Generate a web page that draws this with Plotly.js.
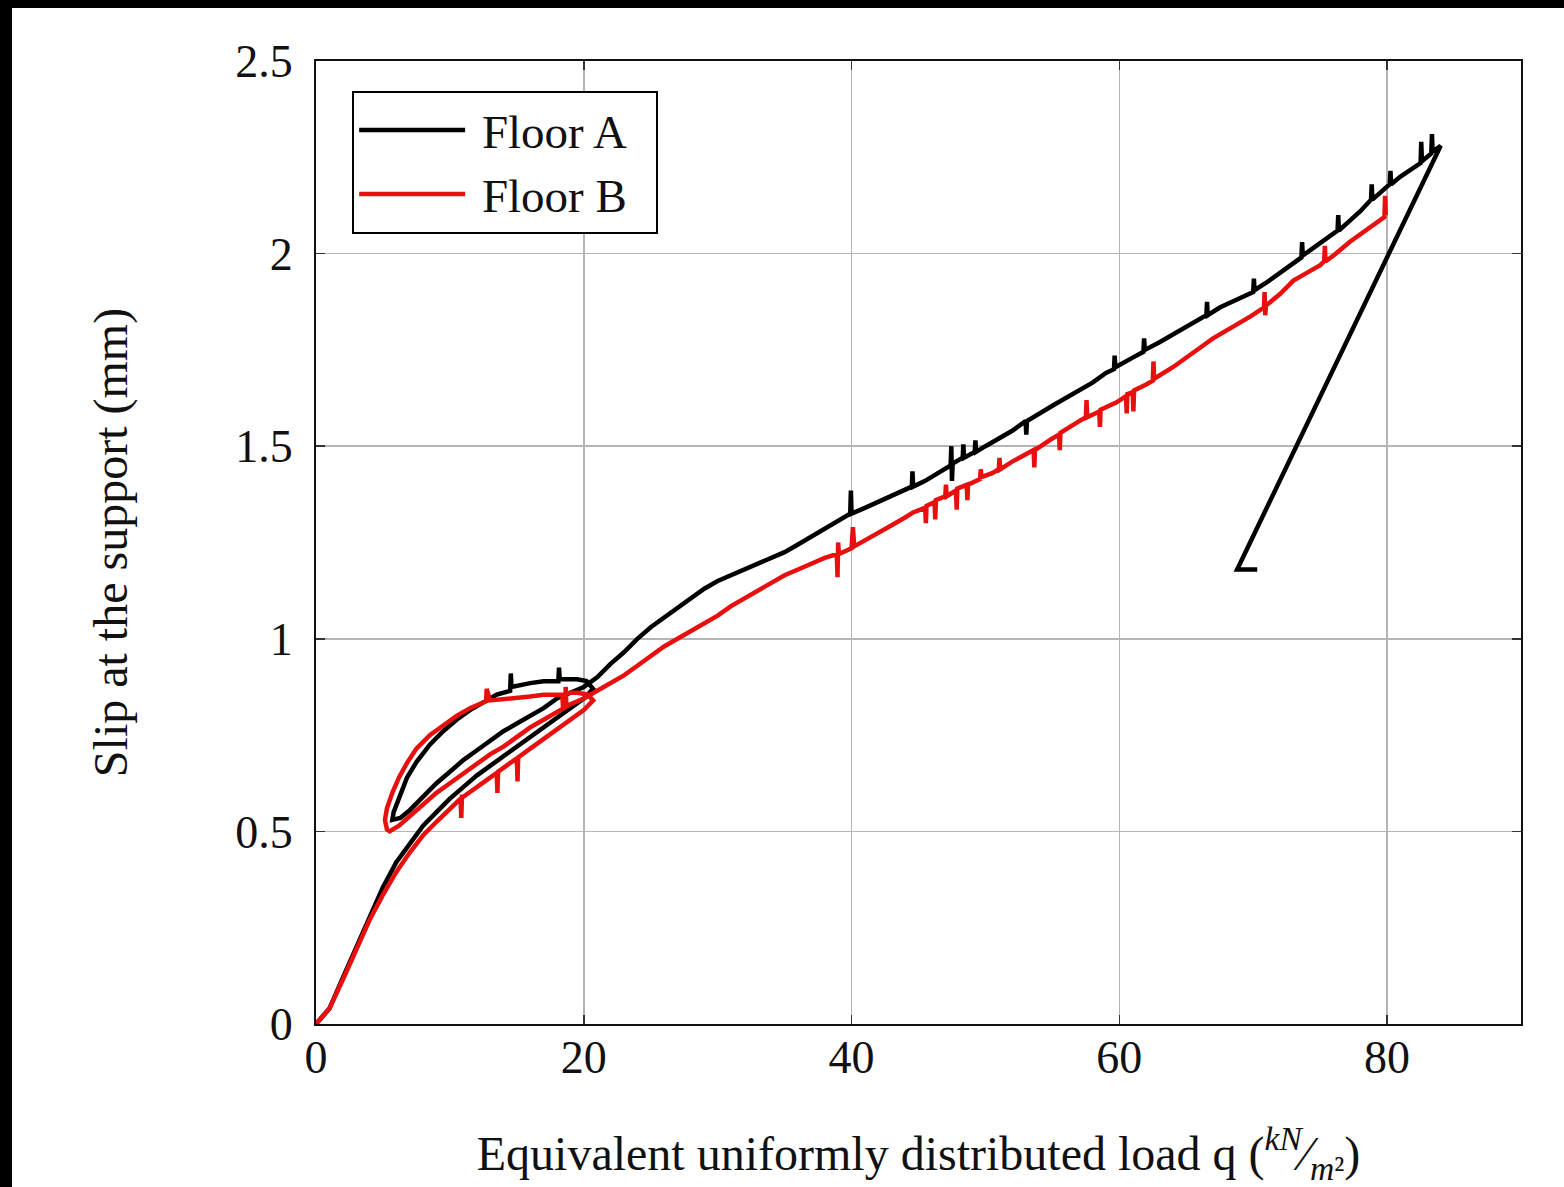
<!DOCTYPE html>
<html>
<head>
<meta charset="utf-8">
<script src="https://cdn.plot.ly/plotly-3.0.1.min.js"></script>
<style>
  html, body { margin: 0; padding: 0; background: #000; width: 1564px; height: 1187px; overflow: hidden; }
  #plot { position: absolute; left: 12px; top: 8px; width: 1552px; height: 1179px; background: #fff; }
</style>
</head>
<body>
<div id="plot"></div>
<script>
// Floor A: initial loading, unloading, reloading, loading to peak, final unloading
const floorA_q = [
  0,1,2,3,4,5,6,7,8,9,10,11,12,13,14,15,16,17,18,19,20,20.7,
  20.2,19.5,18.2,18.15,18.1,17,16,14.6,14.55,14.5,13.5,12.5,11.5,10.5,9.5,8.5,7.5,6.8,6.2,5.8,5.7,
  6.3,7,8,9,10,11,12,13,14,15,16,17,18,19,20,21,
  22,23,24,25,26,27,28,29,30,31,32,33,34,35,36,37,38,39,39.9,39.95,40,41,42,43,44,44.5,44.55,44.6,45.5,46.5,
  47.4,47.45,47.5,47.55,48.3,48.35,48.4,49.2,49.25,49.3,50,51,52,53,53.05,53.1,54,55,56,57,58,59,59.6,59.65,59.7,
  61,61.8,61.85,61.9,63,64,65,66,66.5,66.55,66.6,67.5,68.5,69.5,70,70.05,70.1,71,72,73,73.6,73.65,73.7,74.5,75.5,
  76.3,76.35,76.4,77.2,78,78.8,78.85,78.9,79.7,80.2,80.25,80.3,81,82,82.5,82.55,82.6,83.3,83.35,83.4,84,
  68.8,70.3
];
const floorA_slip = [
  0,0.04,0.12,0.2,0.28,0.355,0.42,0.47,0.515,0.55,0.585,0.615,0.645,0.67,0.695,0.72,0.745,0.77,0.795,0.82,0.845,0.87,
  0.89,0.895,0.895,0.925,0.89,0.89,0.885,0.875,0.91,0.865,0.855,0.835,0.815,0.79,0.76,0.725,0.68,0.64,0.59,0.55,0.53,
  0.535,0.555,0.59,0.625,0.655,0.685,0.71,0.735,0.76,0.78,0.8,0.82,0.845,0.86,0.875,0.9,
  0.935,0.965,1.0,1.03,1.055,1.08,1.105,1.13,1.15,1.165,1.18,1.195,1.21,1.225,1.245,1.265,1.285,1.305,1.325,1.385,1.325,1.34,1.355,1.37,1.385,1.395,1.435,1.395,1.41,1.43,
  1.45,1.5,1.41,1.455,1.47,1.505,1.47,1.485,1.515,1.485,1.5,1.52,1.54,1.565,1.53,1.565,1.585,1.605,1.625,1.645,1.665,1.69,1.7,1.735,1.705,
  1.73,1.745,1.78,1.75,1.77,1.79,1.81,1.83,1.84,1.875,1.84,1.86,1.875,1.89,1.9,1.935,1.905,1.925,1.95,1.975,1.99,2.03,1.995,2.015,2.04,
  2.06,2.1,2.06,2.085,2.11,2.14,2.18,2.14,2.167,2.18,2.215,2.18,2.2,2.225,2.235,2.29,2.24,2.26,2.31,2.265,2.28,
  1.18,1.18
];

// Floor B: initial loading, unloading, reloading, loading to peak
const floorB_q = [
  0,1,2,3,4,5,6,7,8,9,10,10.8,10.85,10.9,11,12,13,13.5,13.55,13.6,14,15,15.05,15.1,16,17,18,19,20,20.7,
  20.3,19.5,19,18.5,18.45,18.4,17,16,14.5,13,12.75,12.7,11.5,10.5,9.5,8.5,7.5,6.8,6.2,5.7,5.3,5.15,5.3,5.5,
  6.2,7,8,9,10,11,12,13,14,15,16,17,18,18.6,18.65,18.7,19,20,21,
  22,23,24,25,26,27,28,29,30,31,32,33,34,35,36,37,38,38.9,38.95,39,39.05,40,40.1,40.2,41,42,43,44,44.6,
  45.5,45.55,45.6,46.2,46.25,46.3,47,47.05,47.1,47.8,47.85,47.9,48.6,48.65,48.7,49.6,49.65,49.7,50.5,51,51.05,51.1,
  52,53,53.6,53.65,53.7,55,55.5,55.55,55.6,57,57.5,57.55,57.6,58.5,58.55,58.6,59.8,60.5,60.55,60.6,61,61.05,61.1,
  62,62.5,62.55,62.6,64,64.8,66,67,68,69,69.8,70.8,70.85,70.9,70.95,72,73,74,75,75.3,75.35,75.4,76,77.2,78,79,79.8,79.85,79.9
];
const floorB_slip = [
  0,0.04,0.115,0.195,0.27,0.335,0.395,0.445,0.49,0.525,0.56,0.585,0.535,0.59,0.59,0.615,0.64,0.652,0.6,0.655,0.665,0.69,0.63,0.692,0.715,0.74,0.765,0.79,0.815,0.84,
  0.855,0.86,0.86,0.855,0.82,0.855,0.855,0.85,0.845,0.84,0.87,0.838,0.82,0.8,0.775,0.75,0.715,0.678,0.64,0.6,0.56,0.53,0.505,0.5,
  0.515,0.54,0.57,0.6,0.625,0.65,0.675,0.7,0.72,0.745,0.77,0.79,0.81,0.822,0.875,0.824,0.83,0.845,0.865,
  0.885,0.905,0.93,0.955,0.98,1.0,1.02,1.04,1.06,1.085,1.105,1.125,1.145,1.165,1.18,1.195,1.21,1.22,1.16,1.25,1.22,1.235,1.29,1.24,1.255,1.275,1.295,1.315,1.328,
  1.34,1.3,1.345,1.355,1.31,1.36,1.37,1.4,1.37,1.385,1.335,1.39,1.4,1.36,1.4,1.415,1.44,1.42,1.43,1.44,1.47,1.44,
  1.46,1.48,1.49,1.445,1.49,1.52,1.53,1.49,1.535,1.565,1.575,1.62,1.575,1.59,1.55,1.595,1.614,1.63,1.585,1.635,1.64,1.59,1.645,
  1.66,1.67,1.72,1.675,1.705,1.726,1.755,1.78,1.8,1.82,1.837,1.86,1.9,1.84,1.865,1.895,1.93,1.95,1.97,1.98,2.02,1.98,1.995,2.03,2.05,2.075,2.095,2.15,2.1
];

const seriesNames = ['Floor A', 'Floor B'];
const xTicks = [0, 20, 40, 60, 80];
const yTicks = [0, 0.5, 1, 1.5, 2, 2.5];
const yTickText = ['0', '0.5', '1', '1.5', '2', '2.5'];

const serif = 'Liberation Serif, Times New Roman, serif';
const pad = s => '\u00a0' + s + '\u00a0\u00a0';

const traces = [
  { x: floorA_q, y: floorA_slip, type: 'scatter', mode: 'lines', name: pad(seriesNames[0]),
    line: { color: '#000000', width: 4.5 } },
  { x: floorB_q, y: floorB_slip, type: 'scatter', mode: 'lines', name: pad(seriesNames[1]),
    line: { color: '#e8100f', width: 4.5 } }
];

const axisCommon = {
  showgrid: true, gridcolor: '#b5b5b5', gridwidth: 1.5,
  showline: true, linecolor: '#111', linewidth: 2, mirror: 'ticks',
  ticks: 'inside', ticklen: 9, tickwidth: 1.5, tickcolor: '#333',
  zeroline: false,
  tickfont: { family: serif, size: 46, color: '#111' }
};

const layout = {
  width: 1552, height: 1179,
  paper_bgcolor: '#ffffff', plot_bgcolor: '#ffffff',
  margin: { l: 304, r: 43, t: 53, b: 163 },
  showlegend: true,
  legend: {
    x: 0.030, y: 0.969, xanchor: 'left', yanchor: 'top',
    bgcolor: '#ffffff', bordercolor: '#000', borderwidth: 2,
    font: { family: serif, size: 47, color: '#111' },
    itemwidth: 106, tracegroupgap: 0
  },
  xaxis: Object.assign({}, axisCommon, {
    range: [0, 90], tickmode: 'array', tickvals: xTicks,
    ticklabelstandoff: -8,
    title: { text: 'Equivalent uniformly distributed load q (<sup><i>kN</i></sup>\u2044<sub><i>m</i>\u00b2</sub>)',
             font: { family: serif, size: 48, color: '#111' }, standoff: 56 }
  }),
  yaxis: Object.assign({}, axisCommon, {
    range: [0, 2.5], tickmode: 'array', tickvals: yTicks, ticktext: yTickText,
    ticklabelstandoff: 12,
    title: { text: 'Slip at the support (mm)',
             font: { family: serif, size: 48, color: '#111' }, standoff: 92 }
  })
};

Plotly.newPlot('plot', traces, layout, { displayModeBar: false, staticPlot: true });
</script>
</body>
</html>
